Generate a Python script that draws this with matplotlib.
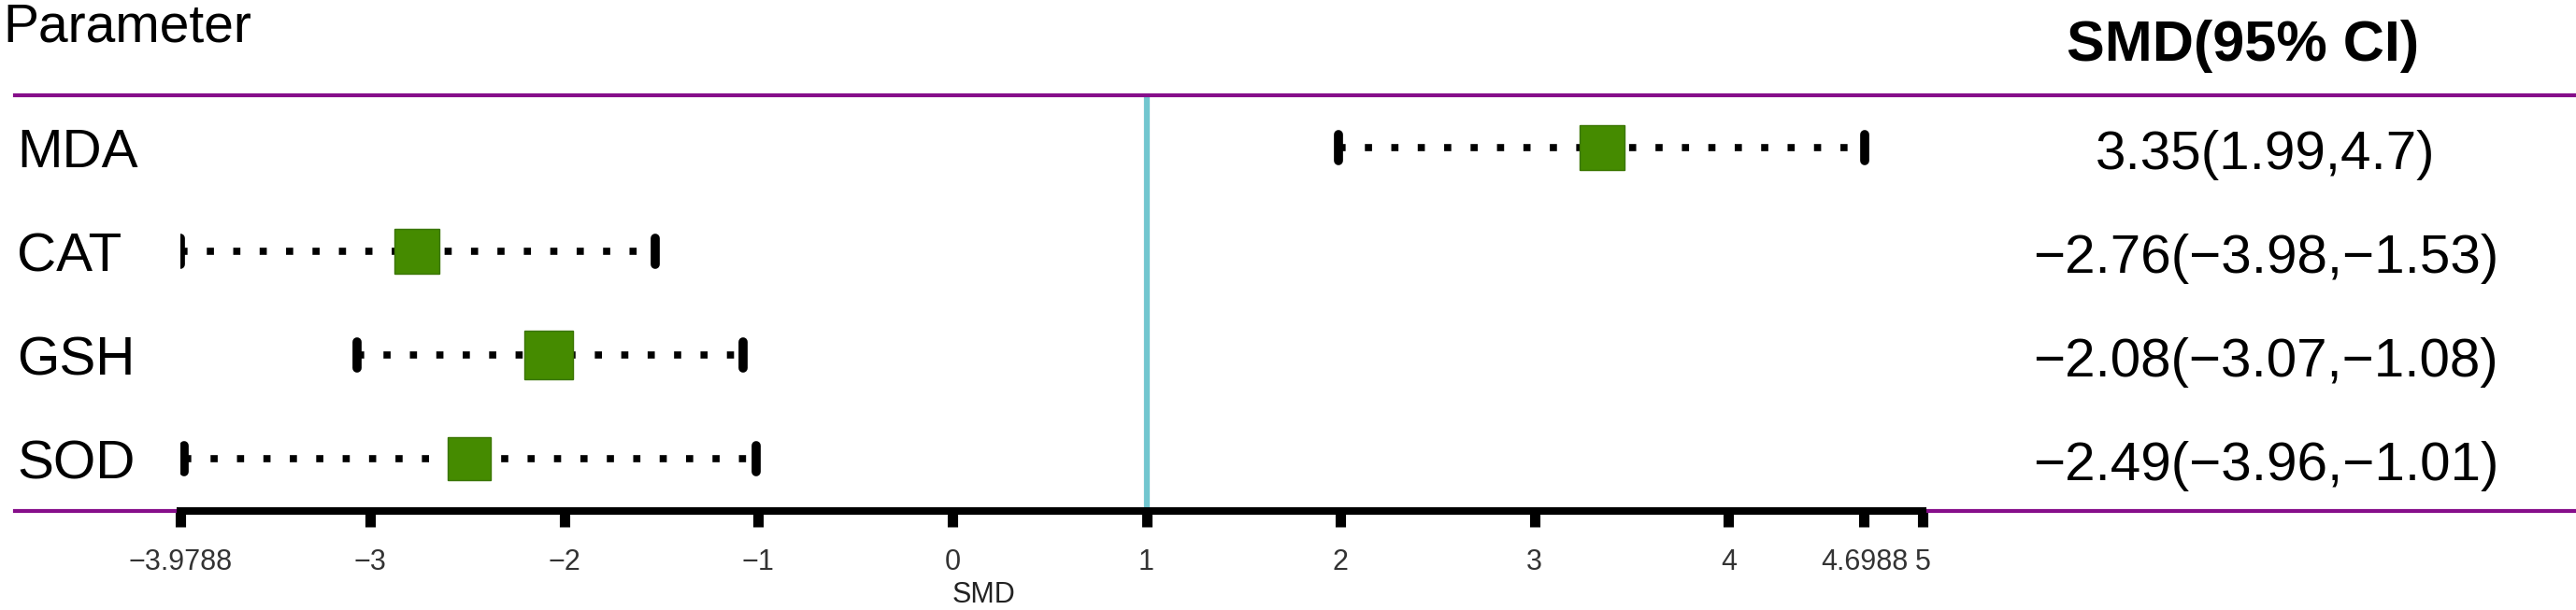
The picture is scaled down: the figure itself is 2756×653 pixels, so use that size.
#!/usr/bin/env python3
import matplotlib
matplotlib.use('Agg')
import matplotlib.pyplot as plt
from matplotlib.transforms import blended_transform_factory

plt.rcParams['font.family'] = ['Liberation Sans', 'DejaVu Sans']

# data
params = ['MDA', 'CAT', 'GSH', 'SOD']
smd = [3.35, -2.76, -2.08, -2.49]
lower = [1.99, -3.98, -3.07, -3.96]
upper = [4.70, -1.53, -1.08, -1.01]
ci_text = ['3.35(1.99,4.7)', '\u22122.76(\u22123.98,\u22121.53)',
           '\u22122.08(\u22123.07,\u22121.08)', '\u22122.49(\u22123.96,\u22121.01)']
box_pt = [34, 35, 37, 33]
xticks = [-3.9788, -3, -2, -1, 0, 1, 2, 3, 4, 4.6988, 5]
xtick_labels = ['\u22123.9788', '\u22123', '\u22122', '\u22121', '0', '1', '2', '3', '4', '4.6988', '5']
ref_line = 1

W, H = 2756, 653
fig = plt.figure(figsize=(W / 100, H / 100), dpi=100)
# axes box: x from -3.9788..5, top at the header rule, bottom at the axis rule
ax = fig.add_axes([193 / W, (H - 547) / H, (2057 - 193) / W, (547 - 102) / H])
ax.set_xlim(xticks[0], xticks[-1])
ax.set_ylim(3.5045, -0.505)

purple = '#860E8A'
green = '#458B00'
cyan = '#72C6CF'

for s in ['top', 'left', 'right']:
    ax.spines[s].set_visible(False)
ax.spines['bottom'].set_linewidth(5.8)
ax.spines['bottom'].set_zorder(4)
ax.set_yticks([])
ax.set_xticks(xticks, xtick_labels)
ax.tick_params(axis='x', direction='out', length=12, width=8, labelsize=22,
               pad=17, colors='black')
for lab in ax.get_xticklabels():
    lab.set_color('#333333')

# horizontal rules across the whole figure
ax.axhline(-0.505, xmin=-0.095, xmax=1.5, color=purple, lw=3, clip_on=False, zorder=3)
ax.axhline(3.5045, xmin=-0.095, xmax=1.5, color=purple, lw=3, clip_on=False, zorder=3)

# reference line
ax.axvline(ref_line, color=cyan, lw=4.5, zorder=2)

cap = 0.125
for i, (m, lo, hi, bs) in enumerate(zip(smd, lower, upper, box_pt)):
    ax.plot([lo, hi], [i, i], color='black', lw=5.5, linestyle=(0, (1.0, 2.7)),
            dash_capstyle='butt', zorder=3)
    for end in (lo, hi):
        ax.plot([end, end], [i - cap, i + cap], color='black', lw=7,
                solid_capstyle='round', zorder=3)
    ax.plot([m], [i], marker='s', markersize=bs, color=green,
            markeredgecolor='#3A7500', markeredgewidth=1, zorder=5)

# text columns
tr = blended_transform_factory(fig.transFigure, ax.transData)
for i, (p, t) in enumerate(zip(params, ci_text)):
    ax.text(18 / W, i + 0.19, p, transform=tr, fontsize=42, ha='left', va='baseline')
    ax.text(2424 / W, i + 0.21, t, transform=tr, fontsize=42, ha='center', va='baseline')

ax.text(3 / W, -1.02, 'Parameter', transform=tr, fontsize=41, ha='left', va='baseline')
ax.text(2400 / W, -0.84, 'SMD(95% CI)', transform=tr, fontsize=44,
        fontweight='bold', ha='center', va='baseline')

tr2 = blended_transform_factory(ax.transData, fig.transFigure)
ax.text(0.16, (H - 637) / H, 'SMD', transform=tr2, fontsize=22,
        ha='center', va='center', color='#222222')

fig.savefig('out.png', dpi=100)
